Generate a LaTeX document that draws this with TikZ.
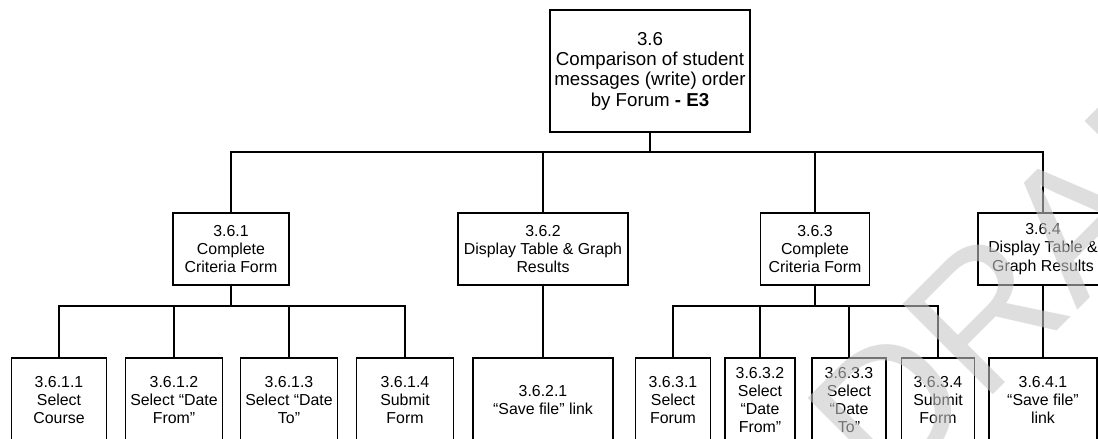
\documentclass[tikz,border=0pt]{standalone}
\usepackage{fontspec}
\setmainfont{Liberation Sans}
\usetikzlibrary{positioning}

\begin{document}
\begin{tikzpicture}[x=0.025cm, y=-0.025cm,
        task/.style={rectangle, draw, line width=1.3pt, align=center, inner sep=0pt, font=\fontsize{11.3}{13}\selectfont},
        root/.style={task, font=\fontsize{13.3}{14.5}\selectfont, minimum width=5cm, minimum height=3.05cm},
        level two/.style={task, minimum height=1.8cm},
        level three/.style={task, minimum height=2.1cm},
        link/.style={draw, line width=1.3pt},
        watermark/.style={inner sep=0pt, text=black!22, text opacity=0.58, font=\fontsize{132}{132}\selectfont}
    ]
        \useasboundingbox (0,0) rectangle (1098,439);
        \clip (0,0) rectangle (1098,439);
        % Root node
        \node[root] (root) at (650,71) {3.6\\Comparison of student\\messages (write) order\\by Forum \textbf{- E3}};
        % Second level
        \node[level two, minimum width=2.9cm] (n361) at (231,249) {3.6.1\\Complete\\Criteria Form};
        \node[level two, minimum width=4.25cm] (n362) at (543,249) {3.6.2\\Display Table \& Graph\\Results};
        \node[level two, minimum width=2.725cm] (n363) at (815,249) {3.6.3\\Complete\\Criteria Form};
        \node[level two, minimum width=3.25cm] (n364) at (1043,249) {3.6.4\\Display Table \&\\Graph Results};
        % Third level
        \node[level three, minimum width=2.375cm] (n3611) at (59,400) {3.6.1.1\\Select\\Course};
        \node[level three, minimum width=2.425cm] (n3612) at (174,400) {3.6.1.2\\Select “Date\\From”};
        \node[level three, minimum width=2.425cm] (n3613) at (289,400) {3.6.1.3\\Select “Date\\To”};
        \node[level three, minimum width=2.425cm] (n3614) at (405,400) {3.6.1.4\\Submit\\Form};
        \node[level three, minimum width=3.5cm] (n3621) at (543,400) {3.6.2.1\\“Save file” link};
        \node[level three, minimum width=1.875cm] (n3631) at (673,400) {3.6.3.1\\Select\\Forum};
        \node[level three, minimum width=1.75cm] (n3632) at (760,400) {3.6.3.2\\Select\\“Date\\From”};
        \node[level three, minimum width=1.85cm] (n3633) at (849,400) {3.6.3.3\\Select\\“Date\\To”};
        \node[level three, minimum width=1.825cm] (n3634) at (938,400) {3.6.3.4\\Submit\\Form};
        \node[level three, minimum width=2.7cm] (n3641) at (1043,400) {3.6.4.1\\“Save file”\\link};
        % Bus lines
        \coordinate (bus_top) at (0,152);
        \coordinate (bus_sub) at (0,306);
        % Connections
        \path[link] (root.south) -- (root.south |- bus_top) -| (n361.north);
        \path[link] (root.south) -- (root.south |- bus_top) -| (n362.north);
        \path[link] (root.south) -- (root.south |- bus_top) -| (n363.north);
        \path[link] (root.south) -- (root.south |- bus_top) -| (n364.north);
        \path[link] (n361.south) -- (n361.south |- bus_sub) -| (n3611.north);
        \path[link] (n361.south) -- (n361.south |- bus_sub) -| (n3612.north);
        \path[link] (n361.south) -- (n361.south |- bus_sub) -| (n3613.north);
        \path[link] (n361.south) -- (n361.south |- bus_sub) -| (n3614.north);
        \path[link] (n362.south) -- (n3621.north);
        \path[link] (n363.south) -- (n363.south |- bus_sub) -| (n3631.north);
        \path[link] (n363.south) -- (n363.south |- bus_sub) -| (n3632.north);
        \path[link] (n363.south) -- (n363.south |- bus_sub) -| (n3633.north);
        \path[link] (n363.south) -- (n363.south |- bus_sub) -| (n3634.north);
        \path[link] (n364.south) -- (n3641.north);
        % Watermark on top
        \node[watermark, rotate=45, anchor=base west] (draft) at (887.5,500) {DRAFT};
\end{tikzpicture}
\end{document}
